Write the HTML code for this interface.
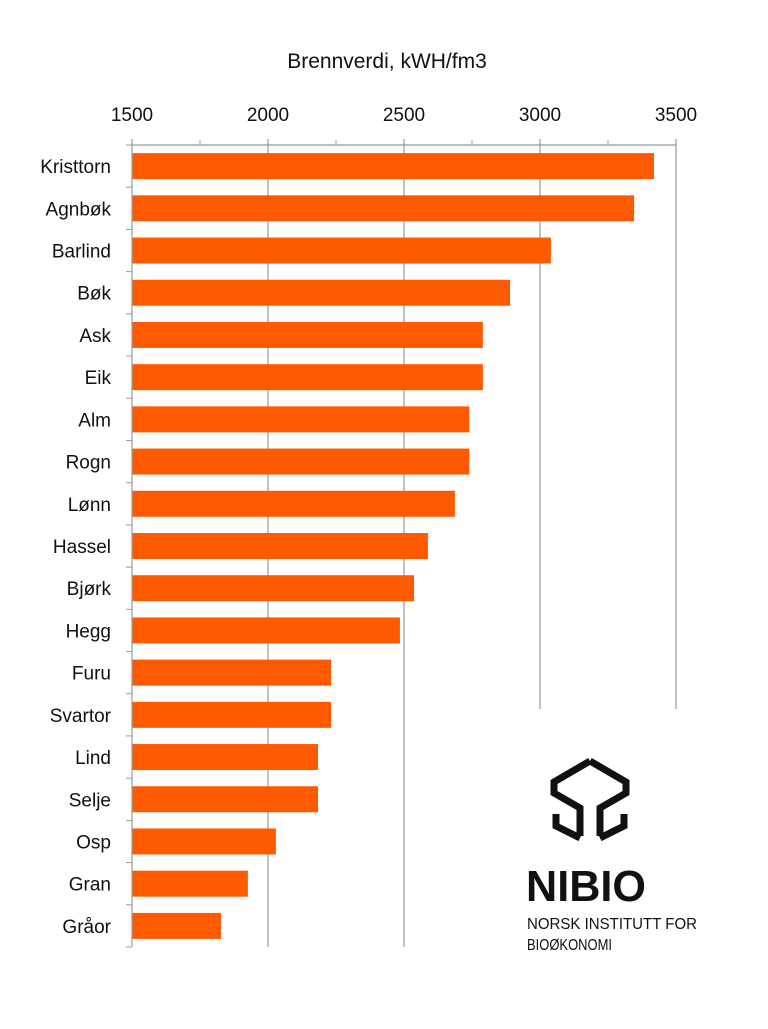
<!DOCTYPE html>
<html><head><meta charset="utf-8"><style>
body{margin:0;background:#fff;}
svg text{font-family:"Liberation Sans",sans-serif;}
</style></head><body>
<svg id="chart" width="768" height="1024" viewBox="0 0 768 1024" xmlns="http://www.w3.org/2000/svg">
<text x="387" y="68" font-size="21" text-anchor="middle" fill="#111">Brennverdi, kWH/fm3</text>
<g id="grid"></g><g id="bars"></g><g id="axes"></g>
<g>
<path d="M590 761 L626 782 L626 793 L600 808 L600 836 M590 761 L554 782 L554 793 L580 808 L580 836 M556 814 L556 826 L580 838 M624 814 L624 826 L600 838" fill="none" stroke="#111" stroke-width="7" stroke-linejoin="miter"/>
<text x="526" y="901" font-size="44" font-weight="bold" fill="#111" textLength="120" lengthAdjust="spacingAndGlyphs">NIBIO</text>
<text x="527" y="929" font-size="16" fill="#111" textLength="170" lengthAdjust="spacingAndGlyphs">NORSK INSTITUTT FOR</text>
<text x="527" y="950" font-size="16" fill="#111" textLength="85" lengthAdjust="spacingAndGlyphs">BIOØKONOMI</text>
</g>
</svg>
<script>
const categories=["Kristtorn","Agnbøk","Barlind","Bøk","Ask","Eik","Alm","Rogn","Lønn","Hassel","Bjørk","Hegg","Furu","Svartor","Lind","Selje","Osp","Gran","Gråor"];
const values=[3419,3346,3040,2890,2790,2790,2740,2740,2687,2588,2537,2485,2232,2232,2184,2184,2029,1926,1827];
const ticks=[1500,2000,2500,3000,3500];
const NS="http://www.w3.org/2000/svg";
const x0=132,x1=676,yTop=145,yBottom=947,vmin=1500,vmax=3500;
const xs=v=>x0+(v-vmin)/(vmax-vmin)*(x1-x0);
const rowH=(yBottom-yTop)/categories.length;
const ys=i=>yTop+i*rowH;
function mk(tag,attrs,parent){const e=document.createElementNS(NS,tag);for(const k in attrs)e.setAttribute(k,attrs[k]);document.getElementById(parent).appendChild(e);return e;}
ticks.forEach((t,i)=>{
  const x=xs(t);
  if(i>0){const g=mk('line',{x1:x,x2:x,y1:yTop-6,y2:(t>=3000?709:yBottom),stroke:'#999','stroke-width':1.2},'grid');
  
  }
  const l=mk('text',{x:x,y:121,'font-size':19,'text-anchor':'middle',fill:'#111'},'axes');l.textContent=t;
  
  
  if(i<ticks.length-1){const m=xs(t+250);const mt=mk('line',{x1:m,x2:m,y1:yTop-5,y2:yTop,stroke:'#999'},'axes');
  
  }
});
const ta=mk('line',{x1:x0,x2:x1,y1:yTop,y2:yTop,stroke:'#999','stroke-width':1.2},'axes');


const la=mk('line',{x1:x0,x2:x0,y1:yTop-6,y2:yBottom,stroke:'#999','stroke-width':1.2},'axes');


for(let i=0;i<=categories.length;i++){const t=mk('line',{x1:x0-6,x2:x0,y1:ys(i),y2:ys(i),stroke:'#999'},'axes');

}
categories.forEach((c,i)=>{
  const y=ys(i)+rowH/2;
  const b=mk('rect',{x:x0,y:y-13,width:xs(values[i])-x0,height:26,fill:'#ff5a00'},'bars');
  
  
  const l=mk('text',{x:111,y:y+7,'font-size':19,'text-anchor':'end',fill:'#111'},'axes');l.textContent=c;
  
  
});
</script>
</body></html>
